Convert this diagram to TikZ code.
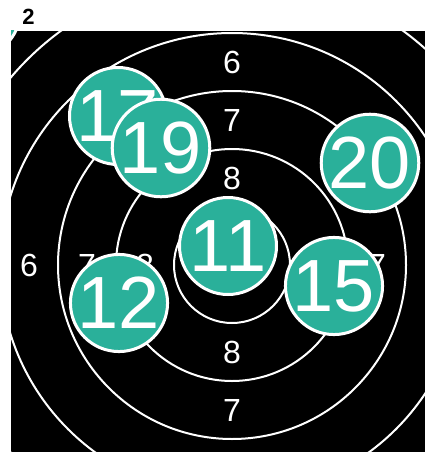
\documentclass[tikz,border=0pt]{standalone}
\usepackage{fontspec}
\setmainfont{Liberation Sans}
\usetikzlibrary{positioning}
\definecolor{shotfill}{HTML}{2AB09A}

\begin{document}
\begin{tikzpicture}[
    x=1pt,y=-1pt,
    ring/.style={draw=white,line width=2pt},
    ringlabel/.style={text=white,inner sep=0pt,font=\fontsize{32}{32}\selectfont},
    shot/.style={circle,fill=shotfill,draw=white,line width=3pt,minimum size=97pt,inner sep=0pt,text=white,font=\fontsize{74}{74}\selectfont},
    panel/.style={inner sep=0pt,font=\bfseries\fontsize{22}{22}\selectfont}
  ]
    \useasboundingbox (0,0) rectangle (425,452);
    \node[panel] (tag) at (28.5,16.5) {2};
    \fill[black] (11,31) rectangle (425,452);
    \coordinate (c) at (232,265);
    \begin{scope}
      \clip (11,31) rectangle (425,452);
      % target rings
      \foreach \k in {1,...,5}
        \draw[ring] (c) circle[radius=58*\k];
      \foreach \lab/\r in {7/145,8/87}
        \foreach \a in {0,90,180,270}
          \node[ringlabel] (r\lab-\a) at ([shift={(\a:\r)}]c) {\lab};
      \foreach \a in {180,270}
        \node[ringlabel] (r6-\a) at ([shift={(\a:203)}]c) {6};
      % shots
      \node[shot] (s0) at (-28,10) {};
      \node[shot] (s17) at (118,116) {17};
      \node[shot] (s19) at (161,148) {19};
      \node[shot] (s20) at (370,163) {20};
      \node[shot] (s11) at (228,246) {11};
      \node[shot] (s12) at (119,303) {12};
      \node[shot] (s15) at (334,286) {15};
    \end{scope}
  \end{tikzpicture}
\end{document}
